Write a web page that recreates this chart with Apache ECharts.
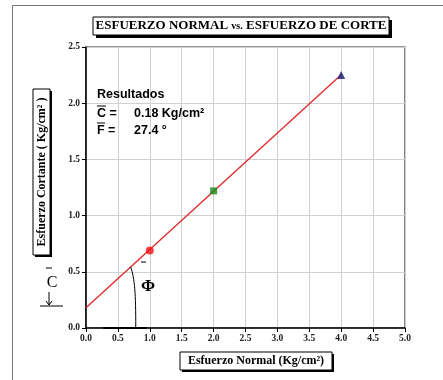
<!DOCTYPE html>
<html>
<head>
<meta charset="utf-8">
<script src="https://cdn.jsdelivr.net/npm/echarts@6/dist/echarts.min.js"></script>
<style>
  html, body { margin: 0; padding: 0; background: #fff; }
  #chart { width: 443px; height: 380px; }
</style>
</head>
<body>
<div id="chart"></div>
<script>
// Ensayo de corte directo: puntos de ensayo y envolvente de falla
const esfuerzoNormal = [1.0, 2.0, 4.0];          // Kg/cm²
const esfuerzoCorte = [0.69, 1.22, 2.25];        // Kg/cm²
const cohesion = 0.18;                           // Kg/cm²
const anguloFriccion = 27.4;                     // grados
const envolventeX = [0, 4];                      // tramo dibujado de la envolvente
const ticksX = [0, 0.5, 1, 1.5, 2, 2.5, 3, 3.5, 4, 4.5, 5];
const ticksY = [0, 0.5, 1, 1.5, 2, 2.5];

const tanPhi = Math.tan(anguloFriccion * Math.PI / 180);
const envolvente = envolventeX.map(s => [s, cohesion + tanPhi * s]);

const serif = '"Liberation Serif", "Times New Roman", serif';
const sans = '"Liberation Sans", Arial, sans-serif';

const chart = echarts.init(document.getElementById('chart'), null, { renderer: 'canvas' });

const labelStyle = { fontFamily: serif, fontWeight: 'bold', fontSize: 9.5, color: '#222' };

chart.setOption({
  animation: false,
  backgroundColor: '#fff',
  grid: { left: 86, right: 38, top: 47, bottom: 52, show: true, borderColor: '#333', borderWidth: 1.2 },
  xAxis: {
    type: 'value', min: ticksX[0], max: ticksX[ticksX.length - 1], interval: 0.5,
    axisLine: { show: true, onZero: false, lineStyle: { color: '#000', width: 1.5 } },
    axisTick: { show: true, length: 4, lineStyle: { color: '#000' } },
    axisLabel: Object.assign({ margin: 6, formatter: v => v.toFixed(1) }, labelStyle),
    splitLine: { show: true, lineStyle: { color: '#d0d0d0', width: 1 } }
  },
  yAxis: {
    type: 'value', min: ticksY[0], max: ticksY[ticksY.length - 1], interval: 0.5,
    axisLine: { show: true, onZero: false, lineStyle: { color: '#000', width: 1.5 } },
    axisTick: { show: true, length: 4, lineStyle: { color: '#000' } },
    axisLabel: Object.assign({ margin: 6, formatter: v => v.toFixed(1) }, labelStyle),
    splitLine: { show: true, lineStyle: { color: '#d0d0d0', width: 1 } }
  },
  series: [
    {
      name: 'Envolvente', type: 'line', data: envolvente, showSymbol: false,
      lineStyle: { color: '#e0262a', width: 1.3 }, z: 3
    },
    {
      name: 'Ensayo 1', type: 'scatter', data: [[esfuerzoNormal[0], esfuerzoCorte[0]]],
      symbol: 'circle', symbolSize: 8, itemStyle: { color: '#f01010' }, z: 4
    },
    {
      name: 'Ensayo 2', type: 'scatter', data: [[esfuerzoNormal[1], esfuerzoCorte[1]]],
      symbol: 'rect', symbolSize: 7, itemStyle: { color: '#168a16' }, z: 4
    },
    {
      name: 'Ensayo 3', type: 'scatter', data: [[esfuerzoNormal[2], esfuerzoCorte[2]]],
      symbol: 'triangle', symbolSize: 8, itemStyle: { color: '#141478' }, z: 4
    }
  ]
});

// Anotaciones: recuadros de título, resultados, cohesión y ángulo
const px = (x, y) => chart.convertToPixel({ gridIndex: 0 }, [x, y]);
const pA = px(0.70, cohesion + tanPhi * 0.70);   // inicio del arco sobre la envolvente
const pB = px(0.78, 0);                          // final del arco sobre el eje
const base0 = px(0.27, 0), base1 = px(0.95, 0);

function boxWithShadow(x, y, w, h, off) {
  return [
    { type: 'rect', shape: { x: x + off, y: y + off, width: w, height: h }, style: { fill: '#000' }, z: 10 },
    { type: 'rect', shape: { x: x, y: y, width: w, height: h }, style: { fill: '#fff', stroke: '#000', lineWidth: 1 }, z: 11 }
  ];
}

const resFont = { fontFamily: sans, fontWeight: 'bold', fontSize: 12.5, fill: '#000', verticalAlign: 'middle' };

const graphics = [
  // marco exterior
  { type: 'rect', shape: { x: 12.5, y: 5.5, width: 440, height: 380 }, style: { fill: null, stroke: '#777', lineWidth: 1 }, z: 1 },
  // título
  ...boxWithShadow(93, 17, 296, 18, 3),
  {
    type: 'text', x: 241, y: 26, z: 12,
    style: {
      text: '{a|ESFUERZO NORMAL }{b|vs.}{a| ESFUERZO DE CORTE}',
      align: 'center', verticalAlign: 'middle',
      rich: {
        a: { fontFamily: serif, fontWeight: 'bold', fontSize: 13, fill: '#000' },
        b: { fontFamily: serif, fontWeight: 'bold', fontSize: 10, fill: '#000' }
      }
    }
  },
  // nombre del eje Y
  ...boxWithShadow(33, 89, 17, 166, 2),
  {
    type: 'text', x: 42, y: 172, rotation: Math.PI / 2, z: 12,
    style: {
      text: 'Esfuerzo Cortante ( Kg/cm² )', align: 'center', verticalAlign: 'middle',
      fontFamily: serif, fontWeight: 'bold', fontSize: 12, fill: '#000'
    }
  },
  // nombre del eje X
  ...boxWithShadow(180, 352, 152, 18, 2),
  {
    type: 'text', x: 256, y: 361, z: 12,
    style: {
      text: 'Esfuerzo Normal (Kg/cm²)', align: 'center', verticalAlign: 'middle',
      fontFamily: serif, fontWeight: 'bold', fontSize: 12, fill: '#000'
    }
  },
  // resultados
  { type: 'text', x: 97, y: 95, z: 12, style: Object.assign({ text: 'Resultados' }, resFont) },
  { type: 'text', x: 97, y: 114, z: 12, style: Object.assign({ text: 'C =' }, resFont) },
  { type: 'line', shape: { x1: 97, y1: 106, x2: 106, y2: 106 }, style: { stroke: '#000', lineWidth: 1 }, z: 12 },
  { type: 'text', x: 134, y: 114, z: 12, style: Object.assign({ text: cohesion.toFixed(2) + ' Kg/cm²' }, resFont) },
  { type: 'text', x: 97, y: 131, z: 12, style: Object.assign({ text: 'F =' }, resFont) },
  { type: 'line', shape: { x1: 97, y1: 123, x2: 105, y2: 123 }, style: { stroke: '#000', lineWidth: 1 }, z: 12 },
  { type: 'text', x: 134, y: 131, z: 12, style: Object.assign({ text: anguloFriccion.toFixed(1) + ' °' }, resFont) },
  // cohesión (C) con flecha
  { type: 'text', x: 52, y: 283, z: 12, style: { text: 'C', align: 'center', verticalAlign: 'middle', fontFamily: serif, fontSize: 16, fill: '#000' } },
  { type: 'line', shape: { x1: 46, y1: 268, x2: 52, y2: 268 }, style: { stroke: '#000', lineWidth: 1 }, z: 12 },
  { type: 'line', shape: { x1: 49, y1: 292, x2: 49, y2: 305 }, style: { stroke: '#000', lineWidth: 1 }, z: 12 },
  { type: 'polyline', shape: { points: [[46, 301], [49, 305], [52, 301]] }, style: { stroke: '#000', fill: null, lineWidth: 1 }, z: 12 },
  { type: 'line', shape: { x1: 40, y1: 306, x2: 63, y2: 306 }, style: { stroke: '#000', lineWidth: 1 }, z: 12 },
  // ángulo de fricción
  {
    type: 'bezierCurve',
    shape: { x1: pA[0], y1: pA[1], x2: pB[0], y2: pB[1], cpx1: pB[0] - 1, cpy1: pA[1] + 12, cpx2: pB[0], cpy2: pB[1] - 35 },
    style: { stroke: '#000', fill: null, lineWidth: 1 }, z: 12
  },
  { type: 'line', shape: { x1: base0[0], y1: base0[1], x2: base1[0], y2: base1[1] }, style: { stroke: '#000', lineWidth: 2 }, z: 12 },
  { type: 'text', x: 148, y: 287, z: 12, style: { text: 'Φ', align: 'center', verticalAlign: 'middle', fontFamily: serif, fontWeight: 'bold', fontSize: 17, fill: '#000' } },
  { type: 'line', shape: { x1: 141, y1: 262, x2: 146, y2: 262 }, style: { stroke: '#000', lineWidth: 1 }, z: 12 }
];

chart.setOption({ graphic: graphics });
</script>
</body>
</html>
